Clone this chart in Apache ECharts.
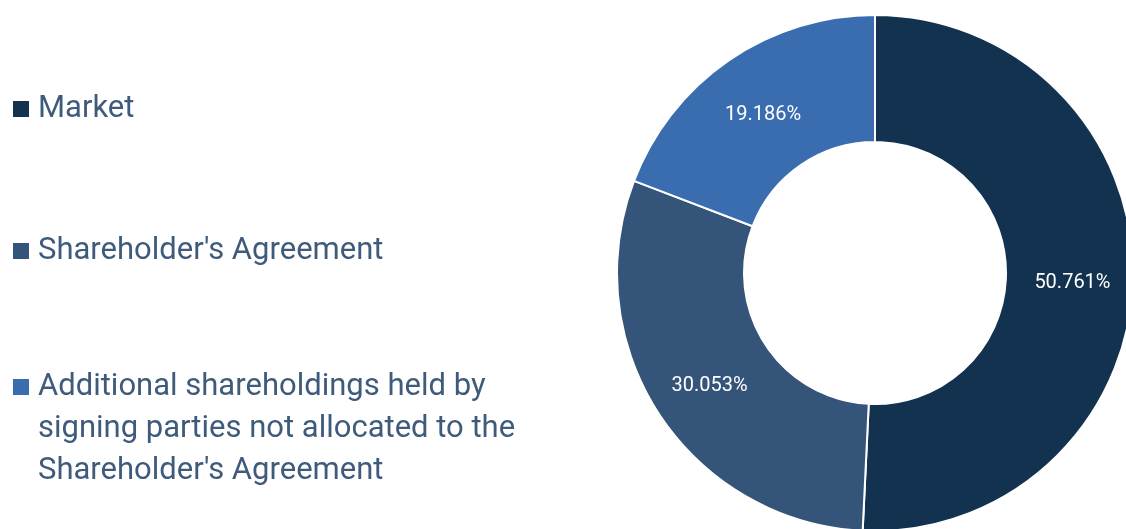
<!DOCTYPE html>
<html>
<head>
<meta charset="utf-8">
<script src="https://cdn.jsdelivr.net/npm/echarts@6/dist/echarts.min.js"></script>
<style>
html,body{margin:0;padding:0;background:#fff;}
#chart{width:1126px;height:529px;}
</style>
</head>
<body>
<div id="chart"></div>
<script>
const categories = [
  "Market",
  "Shareholder's Agreement",
  "Additional shareholdings held by signing parties not allocated to the Shareholder's Agreement"
];
const legendLabels = [
  "Market",
  "Shareholder's Agreement",
  "\n\nAdditional shareholdings held by\nsigning parties not allocated to the\nShareholder's Agreement"
];
const values = [50.761, 30.053, 19.186];
const colors = ["#12324f", "#34547a", "#3a6db0"];

const chart = echarts.init(document.getElementById('chart'));
const legendTops = [85, 227, 279];
const legends = categories.map((c, i) => ({
  data: [c],
  orient: 'vertical',
  left: 11,
  top: legendTops[i],
  padding: 0,
  icon: 'rect',
  itemWidth: 18,
  itemHeight: 18,
  selectedMode: false,
  formatter: () => legendLabels[i],
  textStyle: {
    fontFamily: 'Roboto',
    fontSize: 31,
    lineHeight: 42,
    color: '#3f5b7c',
    padding: [0, 0, 6, 3]
  }
}));

chart.setOption({
  animation: false,
  legend: legends,
  series: [{
    type: 'pie',
    center: [875, 273],
    radius: [131, 258],
    startAngle: 90,
    clockwise: true,
    avoidLabelOverlap: false,
    silent: true,
    itemStyle: { borderColor: '#ffffff', borderWidth: 2 },
    label: {
      show: true,
      position: 'inside',
      color: '#ffffff',
      fontFamily: 'Roboto',
      fontSize: 20,
      offset: [0, 5],
      formatter: p => p.value.toFixed(3) + '%'
    },
    labelLine: { show: false },
    data: categories.map((c, i) => ({ name: c, value: values[i], itemStyle: { color: colors[i] } }))
  }]
});
</script>
</body>
</html>
